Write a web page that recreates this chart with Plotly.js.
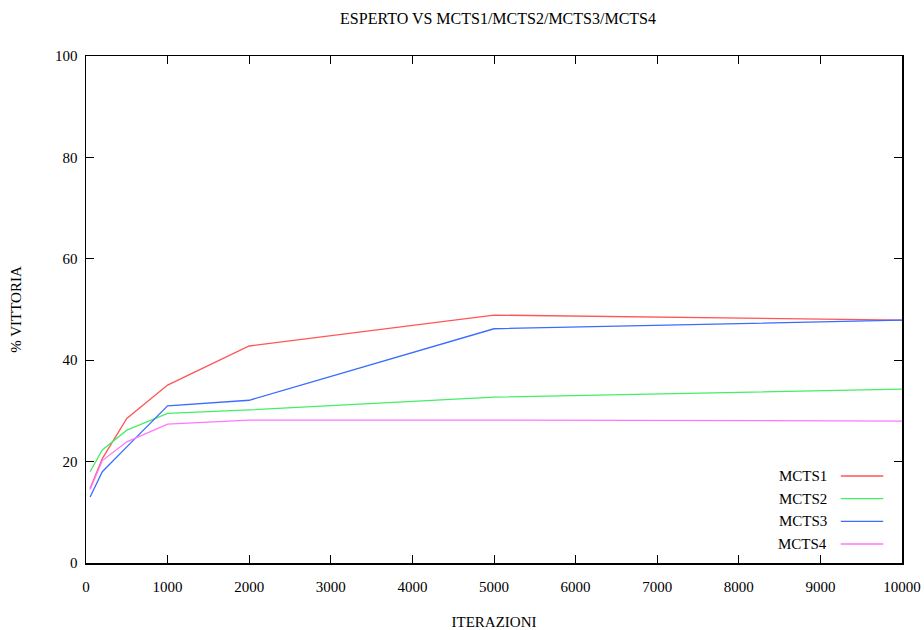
<!DOCTYPE html>
<html>
<head>
<meta charset="utf-8">
<script src="https://cdn.plot.ly/plotly-3.0.1.min.js"></script>
<style>html,body{margin:0;padding:0;background:#fff}#chart{width:924px;height:630px}</style>
</head>
<body>
<div id="chart"></div>
<script>
const iterations = [50, 200, 500, 1000, 2000, 5000, 10000];
const mcts1 = [14.7, 20.6, 28.5, 35.1, 42.8, 48.9, 47.9];
const mcts2 = [18.0, 22.3, 26.2, 29.5, 30.2, 32.7, 34.3];
const mcts3 = [13.0, 18.0, 22.9, 31.0, 32.1, 46.2, 47.9];
const mcts4 = [14.5, 20.2, 23.9, 27.4, 28.2, 28.2, 28.0];
const seriesNames = ["MCTS1", "MCTS2", "MCTS3", "MCTS4"];
const seriesColors = ["#ff5555", "#44ee66", "#3a6cff", "#ff77ff"];
const xTicks = [0,1000,2000,3000,4000,5000,6000,7000,8000,9000,10000];
const yTicks = [0,20,40,60,80,100];

const allSeries = [mcts1, mcts2, mcts3, mcts4];
const traces = allSeries.map((ys, i) => ({
  x: iterations, y: ys, type: "scatter", mode: "lines",
  name: seriesNames[i], line: {color: seriesColors[i], width: 1.3},
  showlegend: false
}));

const font = {family: "'Liberation Serif', 'Times New Roman', serif", size: 15, color: "#000"};
const titleFont = Object.assign({}, font, {size: 16});
const legendY0 = 0.1716, legendStep = 0.0447;
const annotations = [], shapes = [];
seriesNames.forEach((n, i) => {
  const yy = legendY0 - i * legendStep;
  annotations.push({xref: "paper", yref: "paper", x: 0.9105, y: yy, text: n, showarrow: false,
    xanchor: "right", yanchor: "middle", font: font});
  shapes.push({type: "line", xref: "paper", yref: "paper", x0: 0.925, x1: 0.977, y0: yy, y1: yy,
    line: {color: seriesColors[i], width: 1.3}});
});

const axisCommon = {
  showline: true, linecolor: "#000", linewidth: 1.5, mirror: "allticks",
  ticks: "inside", ticklen: 8, tickwidth: 1, tickcolor: "#000",
  showgrid: false, zeroline: false, tickfont: font
};

const layout = {
  width: 924, height: 630,
  margin: {l: 86, r: 22, t: 56, b: 67},
  paper_bgcolor: "#fff", plot_bgcolor: "#fff",
  font: font,
  title: {text: "ESPERTO VS MCTS1/MCTS2/MCTS3/MCTS4", font: titleFont, x: 0.539, xanchor: "center", y: 0.971, yanchor: "middle"},
  xaxis: Object.assign({}, axisCommon, {range: [0, 10000], tickvals: xTicks, ticktext: xTicks.map(String),
    ticklabelstandoff: 9,
    title: {text: "ITERAZIONI", font: font, standoff: 23}}),
  yaxis: Object.assign({}, axisCommon, {range: [0, 100], tickvals: yTicks, ticktext: yTicks.map(String),
    ticklabelstandoff: 4,
    title: {text: "% VITTORIA", font: font, standoff: 30}}),
  annotations: annotations, shapes: shapes
};

Plotly.newPlot("chart", traces, layout, {displayModeBar: false, staticPlot: true});
</script>
</body>
</html>
